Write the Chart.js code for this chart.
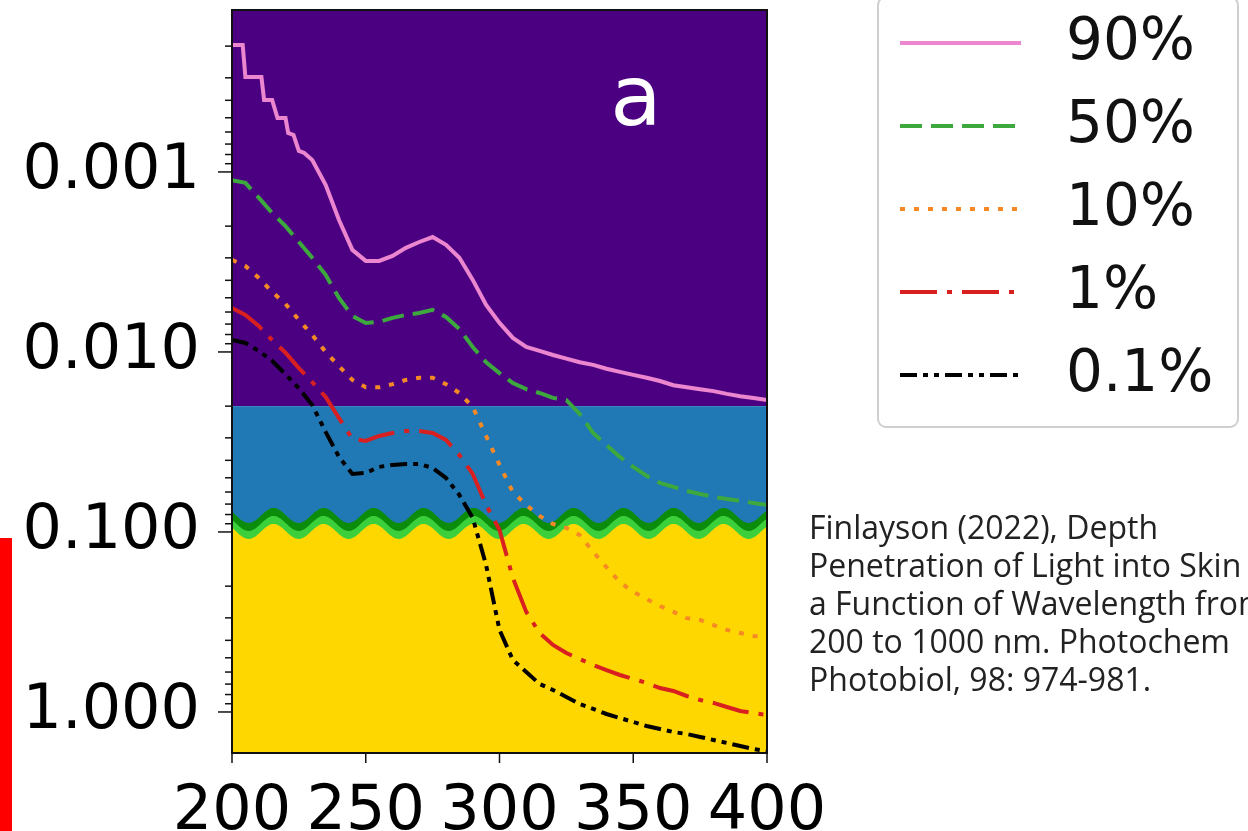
<!DOCTYPE html>
<html>
<head>
<meta charset="utf-8">
<script src="https://cdn.jsdelivr.net/npm/chart.js@4"></script>
<style>
  html, body { margin: 0; padding: 0; background: #fff; overflow: hidden; }
  #wrap { position: relative; width: 1248px; height: 831px; overflow: hidden; }
  #cite { position: absolute; left: 809px; top: 508px; font-family: 'Open Sans', sans-serif; font-size: 32px; line-height: 38px; color: #222; white-space: nowrap; }
  #redbar { position: absolute; left: 0; top: 538px; width: 12px; height: 293px; background: #ff0000; }
</style>
</head>
<body>
<div id="wrap">
  <canvas id="chart" width="1248" height="831"></canvas>
  <div id="redbar"></div>
  <div id="cite">Finlayson (2022), Depth<br>Penetration of Light into Skin as<br>a Function of Wavelength from<br>200 to 1000 nm. Photochem<br>Photobiol, 98: 974-981.</div>
</div>
<script>
// wavelength (nm)
const wavelengths = [200,205,210,215,220,225,230,235,240,245,250,255,260,265,270,275,280,285,290,295,300,
  305,310,315,320,325,330,335,340,345,350,355,360,365,370,375,380,385,390,395,400];
// the 90% curve is stepped at short wavelengths, so it gets a few extra points there
const wavelengths90 = [200,204,205,211,212,215,217,220,221,223,225,227,230,235,240,245,250,255,260,265,270,275,280,285,290,295,300,
  305,310,315,320,325,330,335,340,345,350,355,360,365,370,375,380,385,390,395,400];

// depth (mm) reached by 90%, 50%, 10%, 1%, 0.1% of the light
const depth90 = [0.000197,0.000197,0.000297,0.000297,0.000398,0.000398,0.000501,0.000501,0.000607,0.000623,0.000764,0.000784,
  0.000858,0.00118,0.00185,0.00271,0.00312,
  0.00312,0.00293,0.00264,0.00245,0.00230,0.00254,0.00300,0.00398,0.00548,0.00690,
  0.00836,0.00938,0.00987,0.0104,0.0109,0.0114,0.0118,0.0124,0.0129,0.0134,
  0.0139,0.0145,0.0153,0.0157,0.0161,0.0165,0.0171,0.0176,0.0180,0.0185];
const depth50 = [0.00111,0.00115,0.00139,0.00169,0.00200,0.00245,0.00300,0.00373,0.00501,0.00631,0.00690,
  0.00681,0.00647,0.00623,0.00607,0.00584,0.00639,0.00745,0.00938,0.0114,0.0131,
  0.0149,0.0161,0.0169,0.0180,0.0185,0.0221,0.0282,0.0329,0.0383,0.0435,
  0.0488,0.0534,0.0562,0.0592,0.0615,0.0639,0.0656,0.0673,0.0690,0.0708];
const depth10 = [0.00308,0.00333,0.00388,0.00464,0.00541,0.00664,0.00805,0.0100,0.0120,0.0143,0.0157,
  0.0157,0.0151,0.0143,0.0139,0.0139,0.0151,0.0169,0.0202,0.0293,0.0424,
  0.0600,0.0708,0.0815,0.0903,0.0950,0.104,0.129,0.157,0.190,0.215,
  0.236,0.258,0.278,0.301,0.308,0.329,0.350,0.364,0.378,0.383];
const depth1 = [0.00570,0.00623,0.00717,0.00858,0.0101,0.0123,0.0147,0.0178,0.0233,0.0304,0.0312,
  0.0293,0.0282,0.0275,0.0275,0.0282,0.0308,0.0374,0.0476,0.0708,0.0975,
  0.180,0.278,0.364,0.424,0.470,0.508,0.548,0.585,0.623,0.656,
  0.690,0.736,0.764,0.815,0.858,0.891,0.938,0.987,1.013,1.039];
const depth01 = [0.00858,0.00891,0.00987,0.0112,0.0133,0.0159,0.0197,0.0278,0.0383,0.0476,0.0470,
  0.0435,0.0424,0.0419,0.0419,0.0441,0.0501,0.0623,0.0836,0.153,0.350,
  0.514,0.600,0.699,0.755,0.825,0.903,0.962,1.026,1.080,1.137,
  1.196,1.243,1.292,1.325,1.376,1.431,1.487,1.545,1.606,1.647];

const seriesLabels = ['90%', '50%', '10%', '1%', '0.1%'];
const xTicks = [200, 250, 300, 350, 400];
const yMin = 0.000126, yMax = 1.69;

function pts(xs, ys) {
  return xs.map(function (w, i) { return { x: w, y: ys[i] }; });
}

const FONT = "'DejaVu Sans', sans-serif";

// coloured depth zones + wavy band at 0.1
const zonesPlugin = {
  id: 'zones',
  beforeDatasetsDraw: function (chart) {
    const ctx = chart.ctx, a = chart.chartArea, y = chart.scales.y;
    const y02 = y.getPixelForValue(0.02);
    const y01 = y.getPixelForValue(0.1);
    ctx.save();
    ctx.fillStyle = '#4b0082';
    ctx.fillRect(a.left, a.top, a.right - a.left, y02 - a.top);
    ctx.fillStyle = '#2078b4';
    ctx.fillRect(a.left, y02, a.right - a.left, a.bottom - y02);
    const wave = function (x) { return y01 - 16.5 - 7.5 * Math.cos(2 * Math.PI * (x - a.left - 41.6) / 50); };
    const band = function (off, color) {
      ctx.beginPath();
      ctx.moveTo(a.left, a.bottom);
      for (let x = a.left; x <= a.right; x += 1) ctx.lineTo(x, wave(x) + off);
      ctx.lineTo(a.right, a.bottom);
      ctx.closePath();
      ctx.fillStyle = color;
      ctx.fill();
    };
    band(0, '#0b8c0b');
    band(8, '#3ccf3c');
    band(16, '#ffd700');
    ctx.restore();
  },
  afterDraw: function (chart) {
    const ctx = chart.ctx, a = chart.chartArea, x = chart.scales.x, y = chart.scales.y;
    ctx.save();
    // axis frame
    ctx.strokeStyle = '#111';
    ctx.lineWidth = 2;
    ctx.strokeRect(a.left, a.top, a.right - a.left, a.bottom - a.top);
    // y ticks, long on decades
    ctx.lineWidth = 1.5;
    y.ticks.forEach(function (t) {
      const p = y.getPixelForValue(t.value);
      const lg = Math.log10(t.value);
      const major = Math.abs(lg - Math.round(lg)) < 1e-6;
      ctx.beginPath();
      ctx.moveTo(a.left - (major ? 14 : 7), p);
      ctx.lineTo(a.left, p);
      ctx.stroke();
    });
    x.ticks.forEach(function (t) {
      const p = x.getPixelForValue(t.value);
      ctx.beginPath();
      ctx.moveTo(p, a.bottom);
      ctx.lineTo(p, a.bottom + 10);
      ctx.stroke();
    });
    // panel letter
    ctx.fillStyle = '#fff';
    ctx.font = '84px ' + FONT;
    ctx.textAlign = 'center';
    ctx.textBaseline = 'alphabetic';
    ctx.fillText('a', x.getPixelForValue(351), y.getPixelForValue(0.00055));

    // legend
    const bx = 878, by = -3, bw = 360, bh = 430;
    ctx.beginPath();
    ctx.roundRect(bx, by, bw, bh, 8);
    ctx.fillStyle = 'rgba(255,255,255,0.9)';
    ctx.fill();
    ctx.strokeStyle = '#cfcfcf';
    ctx.lineWidth = 2;
    ctx.stroke();
    chart.data.datasets.forEach(function (ds, i) {
      const ly = 43 + i * 83;
      ctx.beginPath();
      ctx.setLineDash(ds.borderDash || []);
      ctx.strokeStyle = ds.borderColor;
      ctx.lineWidth = ds.borderWidth;
      ctx.moveTo(900, ly);
      ctx.lineTo(1021, ly);
      ctx.stroke();
      ctx.setLineDash([]);
      ctx.fillStyle = '#111';
      ctx.font = '58px ' + FONT;
      ctx.textAlign = 'left';
      ctx.textBaseline = 'middle';
      ctx.fillText(ds.label, 1066, ly + 1);
    });
    ctx.restore();
  }
};

const colors = ['#ec86cf', '#3da83d', '#f58a25', '#d92020', '#000000'];
const dashes = [[], [22, 9], [5, 9], [37, 10, 5, 10], [17, 6, 5, 6, 5, 6]];
const allX = [wavelengths90, wavelengths, wavelengths, wavelengths, wavelengths];
const allDepths = [depth90, depth50, depth10, depth1, depth01];

const chart = new Chart(document.getElementById('chart'), {
  type: 'line',
  data: {
    datasets: allDepths.map(function (d, i) {
      return {
        label: seriesLabels[i],
        data: pts(allX[i], d),
        borderColor: colors[i],
        borderWidth: 4,
        borderDash: dashes[i],
        pointRadius: 0,
        tension: 0,
        fill: false
      };
    })
  },
  options: {
    responsive: false,
    animation: false,
    layout: { padding: { left: 0, top: 10, right: 481, bottom: 0 } },
    plugins: { legend: { display: false }, tooltip: { enabled: false } },
    scales: {
      x: {
        type: 'linear',
        min: 200,
        max: 400,
        afterFit: function (s) { s.height = 78; s.paddingLeft = 0; s.paddingRight = 0; },
        afterBuildTicks: function (s) { s.ticks = xTicks.map(function (v) { return { value: v }; }); },
        grid: { display: false, drawTicks: false },
        border: { display: false },
        ticks: {
          autoSkip: false,
          maxRotation: 0,
          padding: 23,
          color: '#000',
          font: { family: FONT, size: 62 }
        }
      },
      y: {
        type: 'logarithmic',
        reverse: true,
        min: yMin,
        max: yMax,
        afterFit: function (s) { s.width = 232; s.paddingTop = 0; s.paddingBottom = 0; },
        afterBuildTicks: function (s) {
          const t = [];
          for (let e = -4; e <= 0; e++) {
            for (let k = 1; k <= 9; k++) {
              const v = k * Math.pow(10, e);
              if (v >= yMin && v <= yMax) t.push({ value: v });
            }
          }
          s.ticks = t;
        },
        grid: { display: false, drawTicks: false },
        border: { display: false },
        ticks: {
          autoSkip: false,
          padding: 32,
          color: '#000',
          font: { family: FONT, size: 62 },
          callback: function (v) {
            const lg = Math.log10(v);
            if (Math.abs(lg - Math.round(lg)) < 1e-6 && v >= 0.001) return v.toFixed(3);
            return '';
          }
        }
      }
    }
  },
  plugins: [zonesPlugin]
});
</script>
</body>
</html>
